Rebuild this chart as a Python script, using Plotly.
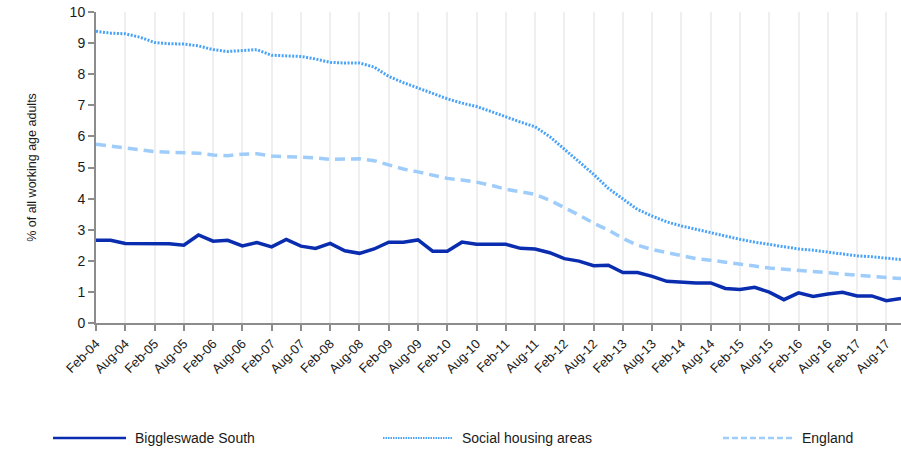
import plotly.graph_objects as go

# quarterly periods, Feb-04 .. Nov-17
MONTHS = ["Feb", "May", "Aug", "Nov"]
periods = [f"{m}-{y:02d}" for y in range(4, 18) for m in MONTHS]
tick_labels = periods[::2]

biggleswade = [
    2.66, 2.66, 2.56, 2.56, 2.56, 2.55, 2.50, 2.83, 2.63, 2.66,
    2.48, 2.59, 2.45, 2.69, 2.47, 2.40, 2.56, 2.32, 2.24, 2.38,
    2.60, 2.60, 2.67, 2.31, 2.31, 2.60, 2.53, 2.53, 2.53, 2.40,
    2.38, 2.26, 2.07, 1.99, 1.84, 1.86, 1.62, 1.62, 1.50, 1.34,
    1.31, 1.29, 1.29, 1.11, 1.08, 1.15, 0.99, 0.75, 0.97, 0.85,
    0.93, 0.99, 0.87, 0.87, 0.72, 0.79,
]
social_housing = [
    9.38, 9.32, 9.30, 9.19, 9.02, 8.98, 8.97, 8.91, 8.79, 8.73,
    8.76, 8.79, 8.61, 8.59, 8.57, 8.49, 8.38, 8.36, 8.36, 8.23,
    7.93, 7.73, 7.55, 7.39, 7.21, 7.07, 6.96, 6.80, 6.62, 6.46,
    6.31, 5.99, 5.59, 5.19, 4.78, 4.33, 3.98, 3.65, 3.44, 3.25,
    3.12, 3.01, 2.91, 2.79, 2.69, 2.60, 2.53, 2.45, 2.38, 2.34,
    2.28, 2.21, 2.16, 2.13, 2.09, 2.04,
]
england = [
    5.75, 5.69, 5.65, 5.59, 5.51, 5.49, 5.48, 5.46, 5.40, 5.38,
    5.43, 5.44, 5.37, 5.35, 5.35, 5.31, 5.26, 5.26, 5.28, 5.22,
    5.08, 4.95, 4.86, 4.76, 4.65, 4.60, 4.53, 4.43, 4.30, 4.22,
    4.14, 3.95, 3.72, 3.47, 3.21, 2.99, 2.72, 2.50, 2.36, 2.26,
    2.15, 2.07, 2.02, 1.95, 1.88, 1.83, 1.77, 1.73, 1.69, 1.64,
    1.60, 1.57, 1.53, 1.49, 1.46, 1.43,
]

C_DARK = "#0a2db0"
C_MID = "#4aa3f7"
C_LIGHT = "#9fcdfb"
C_AXIS = "#8c8c8c"
C_TEXT = "#1a1a1a"

W, H = 901, 450
L, R, T, B = 96, 0, 12, 127

series = [
    ("Biggleswade South", biggleswade, dict(color=C_DARK, width=3.5)),
    ("Social housing areas", social_housing, dict(color=C_MID, width=3, dash="2px,1.5px")),
    ("England", england, dict(color=C_LIGHT, width=3.5, dash="10px,6px")),
]

fig = go.Figure()
for name, vals, line in series:
    fig.add_trace(go.Scatter(x=periods, y=vals, mode="lines", name=name,
                             line=line, showlegend=False))


def px_x(px):
    return (px - L) / (W - L - R)


def px_y(py):
    return (H - B - py) / (H - T - B)


# hand-drawn legend row along the bottom
legend_items = [
    ("Biggleswade South", 53, 126, dict(color=C_DARK, width=2.5)),
    ("Social housing areas", 383, 453, dict(color=C_MID, width=2, dash="1.5px,1px")),
    ("England", 723, 793, dict(color=C_LIGHT, width=2.5, dash="6px,3px")),
]
for text, x0, x1, line in legend_items:
    fig.add_shape(type="line", xref="paper", yref="paper",
                  x0=px_x(x0), x1=px_x(x1), y0=px_y(438), y1=px_y(438), line=line)
    fig.add_annotation(text=text, xref="paper", yref="paper",
                       x=px_x(x1 + 7), y=px_y(438), xanchor="left", yanchor="middle",
                       showarrow=False, font=dict(size=14, color=C_TEXT))

fig.update_layout(
    width=W, height=H,
    margin=dict(l=L, r=R, t=T, b=B),
    paper_bgcolor="white",
    plot_bgcolor="white",
    font=dict(family="Liberation Sans, Arial, sans-serif", color=C_TEXT),
    xaxis=dict(
        type="category",
        range=[0, len(periods) - 1],
        tickvals=tick_labels,
        ticktext=tick_labels,
        tickangle=-45,
        ticks="outside", ticklen=6, tickcolor=C_AXIS, tickwidth=2,
        showline=True, linecolor=C_AXIS, linewidth=2,
        showgrid=True, gridcolor="#efefef", gridwidth=1.5,
        tickfont=dict(size=13),
        automargin=False,
    ),
    yaxis=dict(
        range=[0, 10],
        dtick=1,
        ticks="outside", ticklen=6, tickcolor=C_AXIS, tickwidth=2,
        showline=True, linecolor=C_AXIS, linewidth=2,
        showgrid=False, zeroline=False,
        tickfont=dict(size=14),
        title=dict(text="% of all working age adults", font=dict(size=12.5), standoff=30),
        automargin=False,
    ),
)

# drop the default 8px page margin so the figure sits at the window's corner
fig.write_html("out.html", config={"displayModeBar": False},
               post_script="document.body.style.margin='0';")
